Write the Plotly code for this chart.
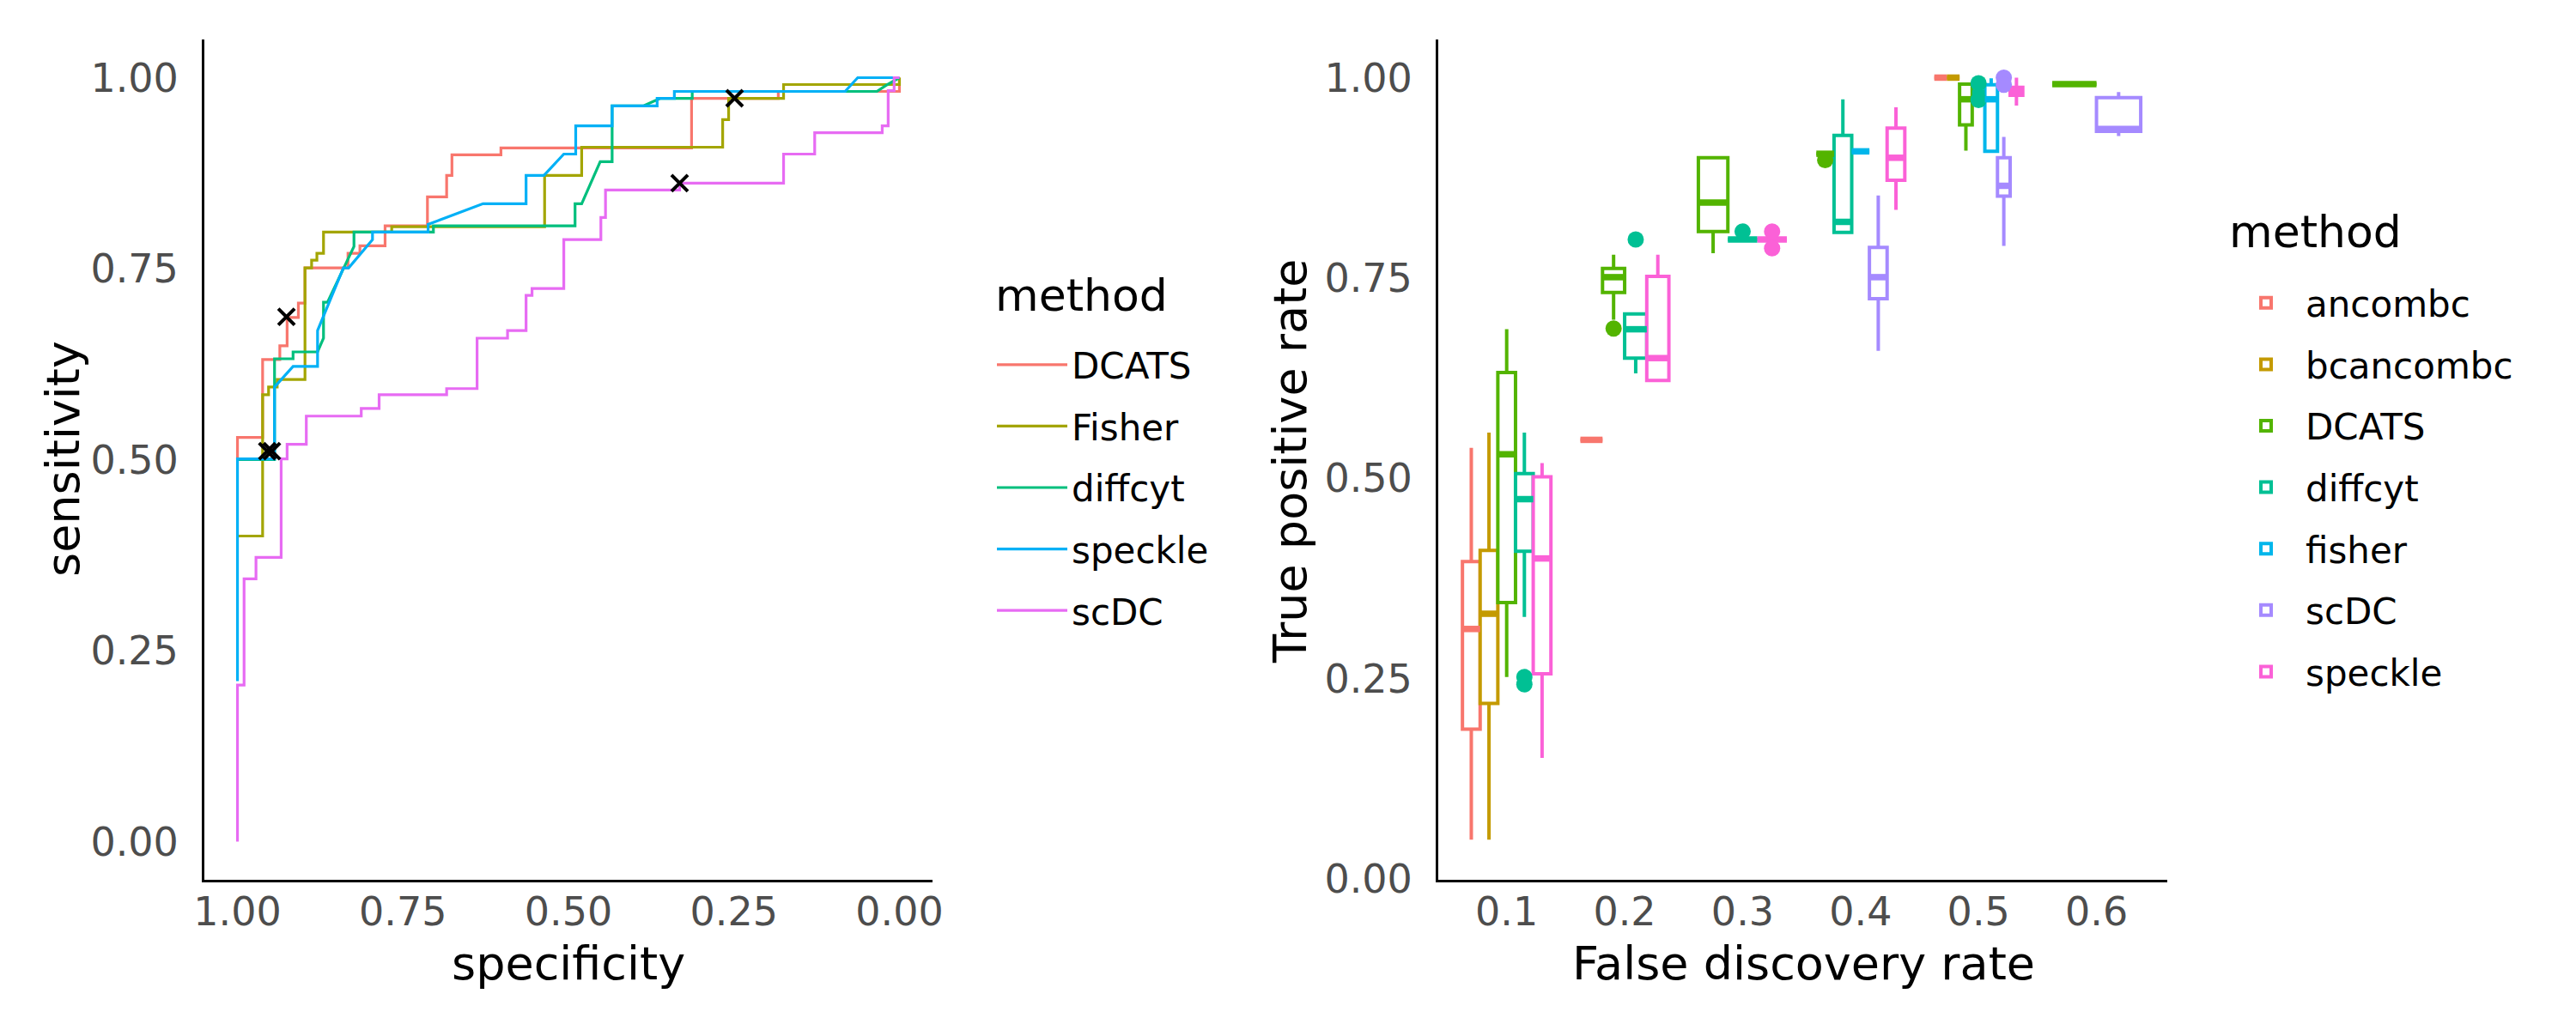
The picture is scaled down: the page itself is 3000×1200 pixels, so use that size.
import plotly.graph_objects as go

FONT = "DejaVu Sans"

# ---------------- ROC data (specificity, sensitivity) ----------------
roc_methods = ["DCATS", "Fisher", "diffcyt", "speckle", "scDC"]
roc_colors = ["#F8766D", "#A3A500", "#00BF7D", "#00B0F6", "#E76BF3"]

dcats_spec = [1.0, 1.0, 0.962, 0.962, 0.936, 0.936, 0.925, 0.925, 0.908, 0.908, 0.898, 0.898,
              0.833, 0.833, 0.815, 0.815, 0.777, 0.777, 0.713, 0.713, 0.684, 0.684, 0.676, 0.676,
              0.602, 0.602, 0.314, 0.314, 0.183, 0.183, 0.0, 0.0]
dcats_sens = [0.50, 0.529, 0.529, 0.631, 0.631, 0.649, 0.649, 0.686, 0.686, 0.705, 0.705, 0.751,
              0.751, 0.770, 0.770, 0.780, 0.780, 0.806, 0.806, 0.844, 0.844, 0.872, 0.872, 0.899,
              0.899, 0.908, 0.908, 0.973, 0.973, 0.982, 0.982, 1.0]

fisher_spec = [1.0, 0.962, 0.962, 0.953, 0.953, 0.94, 0.94, 0.898, 0.898, 0.888, 0.888, 0.88,
               0.88, 0.87, 0.87, 0.767, 0.767, 0.536, 0.536, 0.48, 0.48, 0.267, 0.267, 0.258,
               0.258, 0.175, 0.175, 0.0, 0.0]
fisher_sens = [0.40, 0.40, 0.585, 0.585, 0.595, 0.595, 0.605, 0.605, 0.751, 0.751, 0.761, 0.761,
               0.770, 0.770, 0.798, 0.798, 0.805, 0.805, 0.872, 0.872, 0.909, 0.909, 0.945, 0.945,
               0.973, 0.973, 0.991, 0.991, 1.0]

diffcyt_spec = [1.0, 0.944, 0.944, 0.916, 0.916, 0.879, 0.87, 0.87, 0.864, 0.84, 0.824, 0.824,
                0.704, 0.704, 0.49, 0.49, 0.48, 0.452, 0.434, 0.434, 0.387, 0.361, 0.313, 0.313,
                0.034, 0.02, 0.0]
diffcyt_sens = [0.50, 0.50, 0.632, 0.632, 0.641, 0.641, 0.659, 0.706, 0.706, 0.751, 0.779, 0.798,
                0.798, 0.806, 0.806, 0.835, 0.835, 0.890, 0.890, 0.963, 0.963, 0.973, 0.973, 0.982,
                0.982, 0.99, 1.0]

speckle_spec = [1.0, 1.0, 0.944, 0.944, 0.916, 0.879, 0.879, 0.84, 0.832, 0.796, 0.796, 0.712,
                0.712, 0.629, 0.564, 0.564, 0.537, 0.507, 0.489, 0.489, 0.434, 0.434, 0.366, 0.366,
                0.34, 0.34, 0.082, 0.063, 0.0]
speckle_sens = [0.21, 0.501, 0.501, 0.595, 0.622, 0.622, 0.669, 0.751, 0.751, 0.788, 0.798, 0.798,
                0.808, 0.835, 0.835, 0.872, 0.872, 0.900, 0.900, 0.937, 0.937, 0.963, 0.963, 0.973,
                0.973, 0.982, 0.982, 1.0, 1.0]

scdc_spec = [1.0, 1.0, 0.99, 0.99, 0.972, 0.972, 0.934, 0.934, 0.925, 0.925, 0.896, 0.896, 0.813,
             0.813, 0.786, 0.786, 0.684, 0.684, 0.638, 0.638, 0.592, 0.592, 0.564, 0.564, 0.555,
             0.555, 0.507, 0.507, 0.451, 0.451, 0.444, 0.444, 0.332, 0.332, 0.175, 0.175, 0.128,
             0.128, 0.026, 0.026, 0.017, 0.017, 0.008, 0.008, 0.0]
scdc_sens = [0.0, 0.205, 0.205, 0.344, 0.344, 0.372, 0.372, 0.501, 0.501, 0.52, 0.52, 0.557, 0.557,
             0.567, 0.567, 0.585, 0.585, 0.593, 0.593, 0.659, 0.659, 0.669, 0.669, 0.715, 0.715,
             0.724, 0.724, 0.788, 0.788, 0.817, 0.817, 0.853, 0.853, 0.862, 0.862, 0.900, 0.900,
             0.928, 0.928, 0.937, 0.937, 0.983, 0.983, 1.0, 1.0]

roc_spec = [dcats_spec, fisher_spec, diffcyt_spec, speckle_spec, scdc_spec]
roc_sens = [dcats_sens, fisher_sens, diffcyt_sens, speckle_sens, scdc_sens]

cut_spec = [0.926, 0.955, 0.948, 0.249, 0.332]
cut_sens = [0.687, 0.511, 0.511, 0.973, 0.862]

# ---------------- Boxplot data ----------------
box_methods = ["ancombc", "bcancombc", "DCATS", "diffcyt", "fisher", "scDC", "speckle"]
box_colors = ["#F8766D", "#C49A00", "#53B400", "#00C094", "#00B6EB", "#A58AFF", "#FB61D7"]
fdr_ticks = [0.1, 0.2, 0.3, 0.4, 0.5, 0.6]

box_bin = [0.1, 0.1, 0.1, 0.1, 0.1,
           0.2, 0.2, 0.2, 0.2,
           0.3, 0.3, 0.3,
           0.4, 0.4, 0.4, 0.4, 0.4,
           0.5, 0.5, 0.5, 0.5, 0.5, 0.5, 0.5,
           0.6, 0.6]
box_method = ["ancombc", "bcancombc", "DCATS", "diffcyt", "speckle",
              "ancombc", "DCATS", "diffcyt", "speckle",
              "DCATS", "diffcyt", "speckle",
              "DCATS", "diffcyt", "fisher", "scDC", "speckle",
              "ancombc", "bcancombc", "DCATS", "diffcyt", "fisher", "scDC", "speckle",
              "DCATS", "scDC"]
box_lower = [0.049, 0.049, 0.252, 0.327, 0.151,
             0.548, 0.698, 0.631, 0.622,
             0.781, 0.798, 0.798,
             0.905, 0.807, 0.908, 0.659, 0.835,
             1.0, 1.0, 0.909, 0.981, 0.908, 0.790, 0.965,
             0.992, 0.927]
box_q1 = [0.187, 0.219, 0.345, 0.409, 0.256,
          0.548, 0.732, 0.650, 0.622,
          0.808, 0.798, 0.798,
          0.905, 0.807, 0.908, 0.724, 0.872,
          1.0, 1.0, 0.941, 0.981, 0.908, 0.852, 0.978,
          0.992, 0.933]
box_med = [0.312, 0.331, 0.530, 0.474, 0.400,
           0.548, 0.751, 0.686, 0.650,
           0.844, 0.798, 0.798,
           0.905, 0.820, 0.908, 0.751, 0.900,
           1.0, 1.0, 0.973, 0.981, 0.973, 0.865, 0.983,
           0.992, 0.936]
box_q3 = [0.396, 0.410, 0.632, 0.506, 0.502,
          0.548, 0.762, 0.705, 0.752,
          0.900, 0.798, 0.798,
          0.905, 0.928, 0.908, 0.788, 0.937,
          1.0, 1.0, 0.992, 0.981, 0.991, 0.900, 0.988,
          0.992, 0.975]
box_upper = [0.538, 0.557, 0.686, 0.557, 0.519,
             0.548, 0.779, 0.705, 0.779,
             0.900, 0.798, 0.798,
             0.905, 0.973, 0.908, 0.853, 0.963,
             1.0, 1.0, 0.992, 0.981, 0.999, 0.926, 1.0,
             0.992, 0.982]

out_bin = [0.1, 0.1, 0.2, 0.2, 0.3, 0.3, 0.3, 0.4, 0.5, 0.5, 0.5, 0.5]
out_method = ["diffcyt", "diffcyt", "DCATS", "diffcyt", "diffcyt", "speckle", "speckle",
              "DCATS", "diffcyt", "diffcyt", "scDC", "scDC"]
out_y = [0.252, 0.243, 0.687, 0.798, 0.808, 0.808, 0.787, 0.897, 0.993, 0.972, 1.0, 0.991]

DODGE = 0.075

# dodge positions computed from which methods are present in each bin
pos = {}
for b in fdr_ticks:
    present = [m for bb, m in zip(box_bin, box_method) if bb == b]
    n = len(present)
    w = DODGE / n
    for i, m in enumerate(present):
        pos[(b, m)] = (b - DODGE / 2 + w * (i + 0.5), w)

fig = go.Figure()

# ---- ROC lines ----
for m, c, xs, ys in zip(roc_methods, roc_colors, roc_spec, roc_sens):
    fig.add_trace(go.Scatter(x=xs, y=ys, mode="lines", name=m,
                             line=dict(color=c, width=3.2),
                             legend="legend", legendgroup="roc_" + m,
                             xaxis="x", yaxis="y"))
fig.add_trace(go.Scatter(x=cut_spec, y=cut_sens, mode="markers", showlegend=False,
                         marker=dict(symbol="x-thin", size=19, color="black",
                                     line=dict(color="black", width=4)),
                         xaxis="x", yaxis="y"))

# ---- Boxplots ----
for m, c in zip(box_methods, box_colors):
    first = True
    med_x, med_y = [], []
    for i, (b, mm) in enumerate(zip(box_bin, box_method)):
        if mm != m:
            continue
        cx, w = pos[(b, m)]
        fig.add_trace(go.Box(
            x=[cx], q1=[box_q1[i]], median=[box_med[i]], q3=[box_q3[i]],
            lowerfence=[box_lower[i]], upperfence=[box_upper[i]],
            width=w, name=m, legend="legend2", legendgroup="box_" + m,
            showlegend=first, boxpoints=False, whiskerwidth=0,
            line=dict(color=c, width=4), fillcolor="white",
            xaxis="x2", yaxis="y2"))
        first = False
        med_x += [cx - w / 2, cx + w / 2, None]
        med_y += [box_med[i], box_med[i], None]
    fig.add_trace(go.Scatter(x=med_x, y=med_y, mode="lines", showlegend=False,
                             line=dict(color=c, width=7.5), legend="legend2",
                             xaxis="x2", yaxis="y2"))
    ox = [pos[(b, mm)][0] for b, mm in zip(out_bin, out_method) if mm == m]
    oy = [y for mm, y in zip(out_method, out_y) if mm == m]
    if ox:
        fig.add_trace(go.Scatter(x=ox, y=oy, mode="markers", showlegend=False,
                                 marker=dict(color=c, size=19), legend="legend2",
                                 xaxis="x2", yaxis="y2"))

tickfont = dict(family=FONT, size=46, color="#4D4D4D")
axis_common = dict(showline=True, linecolor="black", linewidth=3, showgrid=False,
                   zeroline=False, ticks="", tickfont=tickfont, automargin=False)

y_dom = [1 - 1025 / 1200, 1 - 46 / 1200]

legend_common = dict(xanchor="left", yanchor="top",
                     font=dict(family=FONT, size=42, color="black"),
                     tracegroupgap=14, itemwidth=82, bgcolor="rgba(0,0,0,0)")

fig.update_layout(
    width=3000, height=1200,
    margin=dict(l=0, r=0, t=0, b=0, autoexpand=False),
    paper_bgcolor="white", plot_bgcolor="white",
    font=dict(family=FONT, color="black"),
    xaxis=dict(domain=[238 / 3000, 1086 / 3000], range=[1.05, -0.05], anchor="y",
               tickvals=[1, 0.75, 0.5, 0.25, 0], ticklabelstandoff=-5,
               ticktext=["1.00", "0.75", "0.50", "0.25", "0.00"], **axis_common),
    yaxis=dict(domain=y_dom, range=[-0.05, 1.05], anchor="x", ticklabelstandoff=18,
               tickvals=[0, 0.25, 0.5, 0.75, 1],
               ticktext=["0.00", "0.25", "0.50", "0.75", "1.00"], **axis_common),
    xaxis2=dict(domain=[1675 / 3000, 2524 / 3000], range=[0.042, 0.66], anchor="y2",
                ticklabelstandoff=-5,
                tickvals=fdr_ticks, ticktext=[f"{v:.1f}" for v in fdr_ticks], **axis_common),
    yaxis2=dict(domain=y_dom, range=[-0.001, 1.0476], anchor="x2", ticklabelstandoff=18,
                tickvals=[0, 0.25, 0.5, 0.75, 1],
                ticktext=["0.00", "0.25", "0.50", "0.75", "1.00"], **axis_common),
    boxmode="overlay",
    legend=dict(x=1156 / 3000, y=1 - 391 / 1200, **legend_common),
    legend2=dict(x=2593 / 3000, y=1 - 319 / 1200, **legend_common),
    annotations=[
        dict(text="specificity", x=662 / 3000, y=1 - 1122 / 1200, xref="paper", yref="paper",
             showarrow=False, xanchor="center", yanchor="middle",
             font=dict(family=FONT, size=54, color="black")),
        dict(text="sensitivity", x=73 / 3000, y=1 - 535 / 1200, xref="paper", yref="paper",
             showarrow=False, xanchor="center", yanchor="middle", textangle=-90,
             font=dict(family=FONT, size=54, color="black")),
        dict(text="False discovery rate", x=2100 / 3000, y=1 - 1122 / 1200, xref="paper",
             yref="paper", showarrow=False, xanchor="center", yanchor="middle",
             font=dict(family=FONT, size=54, color="black")),
        dict(text="True positive rate", x=1502 / 3000, y=1 - 537 / 1200, xref="paper",
             yref="paper", showarrow=False, xanchor="center", yanchor="middle", textangle=-90,
             font=dict(family=FONT, size=54, color="black")),
        dict(text="method", x=1157 / 3000, y=1 - 344 / 1200, xref="paper", yref="paper",
             showarrow=False, xanchor="left", yanchor="middle",
             font=dict(family=FONT, size=52, color="black")),
        dict(text="method", x=2594 / 3000, y=1 - 270 / 1200, xref="paper", yref="paper",
             showarrow=False, xanchor="left", yanchor="middle",
             font=dict(family=FONT, size=52, color="black")),
    ],
)

fig.write_html("out.html")
